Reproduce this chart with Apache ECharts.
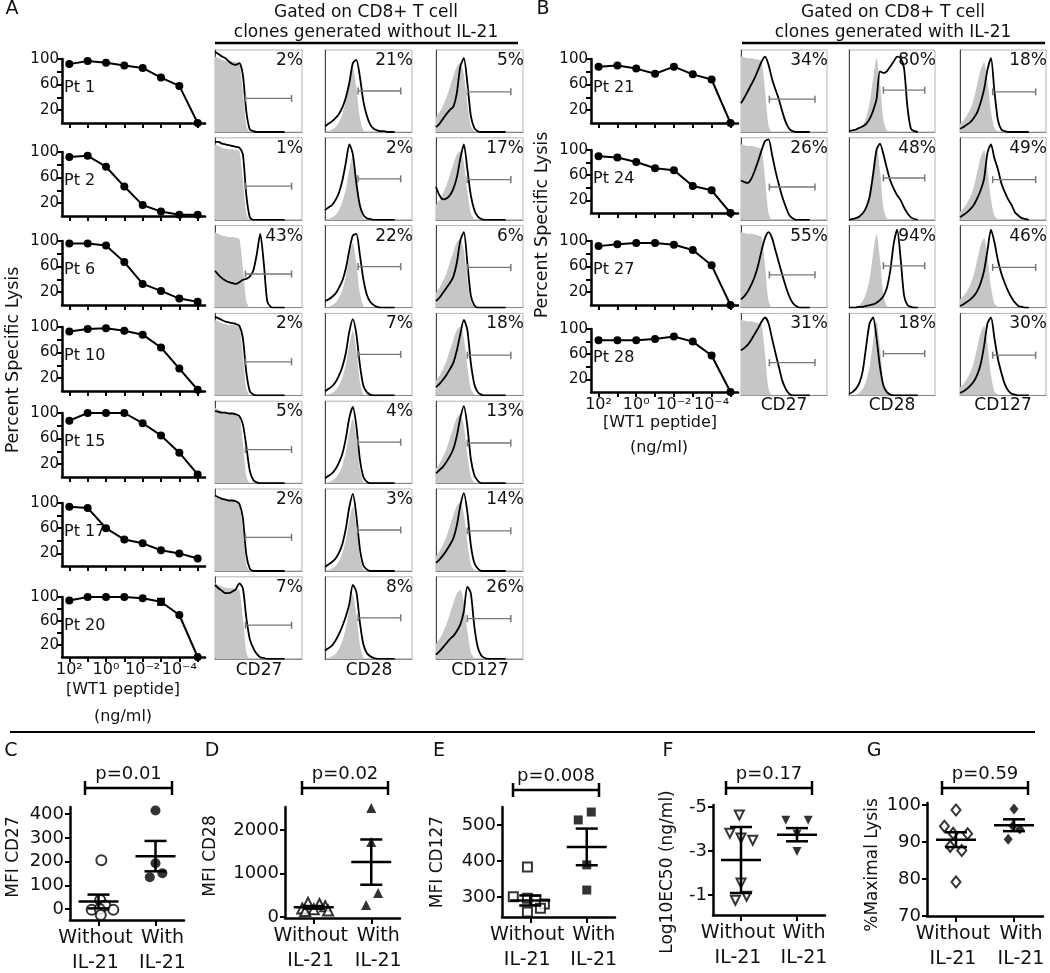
<!DOCTYPE html>
<html><head><meta charset="utf-8">
<script src="https://cdn.jsdelivr.net/npm/echarts@6/dist/echarts.min.js"></script>
<style>html,body{margin:0;padding:0;background:#fff}#c{width:1050px;height:973px}</style>
</head><body><div id="c"></div><script>
// ---------- DATA ----------
const concExp = [2, 1, 0, -1, -2, -3, -4, -5];
const concTickExp = [2, 0, -2, -4];
const concTickLabels = ['10²', '10⁰', '10⁻²', '10⁻⁴'];
const lysisTicks = [20, 60, 100];
const lysisMinorTicks = [20, 40, 60, 80, 100];

const patientsA = ['Pt 1', 'Pt 2', 'Pt 6', 'Pt 10', 'Pt 15', 'Pt 17', 'Pt 20'];
const patientsB = ['Pt 21', 'Pt 24', 'Pt 27', 'Pt 28'];

const lysisPt1  = [92, 97, 94, 90, 86, 71, 58, 0];
const lysisPt2  = [92, 94, 77, 46, 17, 7, 2, 2];
const lysisPt6  = [96, 96, 93, 67, 33, 22, 10, 5];
const lysisPt10 = [93, 97, 98, 94, 88, 68, 35, 2];
const lysisPt15 = [88, 100, 100, 100, 84, 65, 38, 4];
const lysisPt17 = [94, 92, 60, 42, 36, 25, 20, 12];
const lysisPt20 = [94, 100, 100, 100, 98, 92, 70, 0];
const lysisPt20Err = [0, 0, 0, 0, 0, 5, 0, 0];
const lysisPt21 = [88, 90, 85, 77, 88, 76, 68, 0];
const lysisPt24 = [90, 88, 81, 71, 68, 43, 36, 0];
const lysisPt27 = [92, 95, 97, 97, 94, 86, 62, 0];
const lysisPt28 = [82, 82, 82, 84, 88, 80, 58, 0];

const markers = ['CD27', 'CD28', 'CD127'];
const pctA_CD27  = ['2%', '1%', '43%', '2%', '5%', '2%', '7%'];
const pctA_CD28  = ['21%', '2%', '22%', '7%', '4%', '3%', '8%'];
const pctA_CD127 = ['5%', '17%', '6%', '18%', '13%', '14%', '26%'];
const pctB_CD27  = ['34%', '26%', '55%', '31%'];
const pctB_CD28  = ['80%', '48%', '94%', '18%'];
const pctB_CD127 = ['18%', '49%', '46%', '30%'];

// histogram channel bins (% of axis) and gates [from, to, height]
const histBins = [0,4,8,12,16,20,24,28,32,36,40,44,48,52,56,60,64,68,72,76,80];
const gateA = [[35, 88, 41], [38, 87, 50], [36, 86, 49]];
const gateB = [[33, 86, 40], [40, 88, 51], [38, 88, 49]];

const grayA_CD27  = [92,90,88,87,86,86,85,84,50,8,0,0,0,0,0,0,0,0,0,0,0];
const grayA_CD28  = [0,1,3,6,12,22,38,62,79,55,18,2,0,0,0,0,0,0,0,0,0];
const grayA_CD127 = [18,24,32,42,55,68,80,84,70,35,8,1,0,0,0,0,0,0,0,0,0];
const grayB_CD27  = [92,91,90,90,89,88,86,50,8,0,0,0,0,0,0,0,0,0,0,0,0];
const grayB_CD28  = [0,0,1,3,8,18,35,65,90,60,15,2,0,0,0,0,0,0,0,0,0];
const grayB_CD127 = [10,14,20,28,40,58,76,85,62,25,5,1,0,0,0,0,0,0,0,0,0];

const histA_CD27 = [
  [98,95,92,90,86,83,82,84,70,25,3,1,0,0,0,0,0,0,0,0,0],
  [95,95,93,92,91,90,89,88,80,30,3,0,0,0,0,0,0,0,0,0,0],
  [45,40,36,33,31,30,29,31,34,35,38,45,65,90,55,8,1,0,0,0,0],
  [96,94,92,90,89,88,87,85,70,28,5,1,0,0,0,0,0,0,0,0,0],
  [88,87,86,86,85,85,84,82,72,45,15,4,1,0,0,0,0,0,0,0,0],
  [92,90,88,87,86,86,85,82,65,20,3,0,0,0,0,0,0,0,0,0,0],
  [90,86,83,80,80,82,85,92,86,50,24,13,6,2,1,0,0,0,0,0,0]];
const histA_CD28 = [
  [7,10,13,17,22,30,42,60,84,88,68,38,20,9,4,2,1,1,0,0,0],
  [12,15,18,24,33,48,70,92,80,45,18,6,2,1,0,0,0,0,0,0,0],
  [8,10,13,17,24,33,48,70,88,90,65,35,16,7,3,1,0,0,0,0,0],
  [5,8,11,16,24,35,52,78,93,75,38,12,4,1,0,0,0,0,0,0,0],
  [6,9,12,17,25,36,55,80,93,70,30,8,2,0,0,0,0,0,0,0,0],
  [5,8,11,15,22,33,52,78,94,68,28,7,2,0,0,0,0,0,0,0,0],
  [10,13,16,22,30,40,52,67,90,82,45,18,7,3,1,0,0,0,0,0,0]];
const histA_CD127 = [
  [6,10,16,22,27,31,48,80,90,60,20,5,1,0,0,0,0,0,0,0,0],
  [40,30,25,26,30,38,52,75,92,62,30,12,4,1,0,0,0,0,0,0,0],
  [8,12,18,24,30,38,55,82,92,55,15,3,0,0,0,0,0,0,0,0,0],
  [10,14,19,25,32,40,55,75,92,80,40,14,4,1,0,0,0,0,0,0,0],
  [12,16,20,26,33,42,58,80,94,70,30,10,3,0,0,0,0,0,0,0,0],
  [10,14,19,25,32,40,56,80,95,72,32,10,3,0,0,0,0,0,0,0,0],
  [5,9,14,19,24,28,34,42,58,88,80,40,14,4,1,0,0,0,0,0,0]];
const histB_CD27 = [
  [35,42,50,58,66,76,86,92,82,65,52,40,25,12,4,1,0,0,0,0,0],
  [48,46,45,50,60,72,85,96,98,80,60,43,28,16,6,2,0,0,0,0,0],
  [10,14,20,28,38,52,70,85,92,85,70,55,40,26,14,6,2,0,0,0,0],
  [55,58,62,68,75,82,90,95,88,70,52,35,18,8,2,0,0,0,0,0,0]];
const histB_CD28 = [
  [1,2,3,5,7,10,16,26,40,74,72,74,80,86,92,90,78,30,4,1,0],
  [0,1,2,4,8,15,28,55,85,93,80,63,48,38,30,24,15,8,3,1,0],
  [0,0,0,1,1,2,3,4,6,9,14,24,45,78,95,60,15,3,1,0,0],
  [2,4,8,15,30,60,88,95,70,35,12,4,1,0,0,0,0,0,0,0,0]];
const histB_CD127 = [
  [4,6,9,12,17,24,36,52,76,90,50,15,3,1,0,0,0,0,0,0,0],
  [3,6,9,13,18,26,36,50,82,92,75,62,45,34,25,18,9,5,2,1,0],
  [2,4,7,10,14,20,30,45,70,95,80,58,42,30,20,12,6,2,1,0,0],
  [3,5,8,12,17,25,38,60,88,95,70,45,28,14,6,2,1,0,0,0,0]];

// bottom panels
const groupNames = ['Without', 'With'];
const groupSub = 'IL-21';
const cWithout = [206, 38, 15, -3, 0, -3, -25];
const cWith = [415, 193, 134, 151];
const cJitWithout = [0.05, 0.03, 0.12, -0.12, 0.02, 0.26, 0.04];
const cJitWith = [0, 0, -0.1, 0.12];
const cMean = [32, 223], cErr = [29, 64];
const cTicks = [0, 100, 200, 300, 400];

const dWithout = [330, 300, 250, 200, 180, 150, 140];
const dWith = [2505, 1724, 552, 276];
const dJitWithout = [-0.1, 0.1, 0.2, -0.2, 0, 0.25, -0.15];
const dJitWith = [0, 0, 0.12, -0.09];
const dMean = [225, 1264], dErr = [30, 520];
const dTicks = [0, 1000, 2000];

const eWithout = [383, 300, 296, 290, 280, 268, 258];
const eWith = [536, 514, 389, 319];
const eJitWithout = [-0.05, -0.3, -0.05, 0.1, 0.25, 0.18, -0.05];
const eJitWith = [0.08, -0.15, 0, 0];
const eMean = [290, 439], eErr = [14, 51];
const eTicks = [300, 400, 500];

const fWithout = [-4.64, -3.82, -3.6, -3.5, -1.55, -0.77, -0.95];
const fWith = [-4.41, -4.41, -3.77, -2.99];
const fJitWithout = [-0.03, -0.2, 0, 0.21, 0, -0.1, 0.1];
const fJitWith = [-0.2, 0.2, 0, 0];
const fMean = [-2.6, -3.75], fErr = [1.5, 0.3];
const fTicks = [-5, -3, -1];

const gWithout = [98.6, 94.2, 92.3, 92.2, 88.8, 87.7, 79.2];
const gWith = [98.9, 94.3, 93.5, 90.7];
const gJitWithout = [0, -0.2, -0.05, 0.2, -0.1, 0.1, 0];
const gJitWith = [0, -0.02, 0.1, -0.1];
const gMean = [90.6, 94.5], gErr = [2.0, 1.6];
const gTicks = [70, 80, 90, 100];

const pValues = ['p=0.01', 'p=0.02', 'p=0.008', 'p=0.17', 'p=0.59'];

// ---------- BUILD ----------
const FONT = 'DejaVu Sans';
const TXT = '#111';
const grids = [], xAxes = [], yAxes = [], series = [], graphic = [];
function addGrid(g, xa, ya) {
  const i = grids.length;
  grids.push(Object.assign({containLabel: false}, g));
  xAxes.push(Object.assign({gridIndex: i}, xa));
  yAxes.push(Object.assign({gridIndex: i}, ya));
  return i;
}
function text(x, y, str, size, align, rot) {
  graphic.push({type: 'text', x: x, y: y, rotation: rot || 0, z: 50,
    style: {text: str, font: size + 'px "' + FONT + '"', fill: TXT,
      textAlign: align || 'center', align: align || 'center',
      textVerticalAlign: 'middle', verticalAlign: 'middle'}});
}
function line(x1, y1, x2, y2, w, c) {
  graphic.push({type: 'line', z: 50, shape: {x1, y1, x2, y2}, style: {stroke: c || '#000', lineWidth: w || 2}});
}

// kill curves
function curve(left, width, top, h, vals, errs, showX, label) {
  const gi = addGrid({left, top, width, height: h}, {
    type: 'value', inverse: true, min: -5.4, max: 2.4,
    axisLine: {onZero: false, lineStyle: {color: '#000', width: 2.5}},
    axisTick: {customValues: concExp, length: 5, lineStyle: {color: '#000', width: 2}},
    axisLabel: {show: showX, customValues: concTickExp, showMinLabel: true, showMaxLabel: true, hideOverlap: false,
      formatter: v => concTickLabels[concTickExp.indexOf(Math.round(v))],
      fontFamily: FONT, fontSize: 16, color: TXT, margin: 5},
    splitLine: {show: false}
  }, {
    type: 'value', min: 0, max: 100,
    axisLine: {show: true, onZero: false, lineStyle: {color: '#000', width: 2.5}},
    axisTick: {show: true, customValues: lysisMinorTicks, length: 5, lineStyle: {color: '#000', width: 2}},
    axisLabel: {customValues: lysisTicks, showMinLabel: true, showMaxLabel: true, hideOverlap: false,
      fontFamily: FONT, fontSize: 15, color: TXT, margin: 3},
    splitLine: {show: false}
  });
  series.push({type: 'line', xAxisIndex: gi, yAxisIndex: gi,
    data: concExp.map((x, i) => [x, vals[i]]),
    symbol: 'circle', symbolSize: 8, itemStyle: {color: '#000'},
    lineStyle: {color: '#000', width: 2}, clip: false, z: 3, animation: false});
  if (errs) {
    series.push({type: 'custom', xAxisIndex: gi, yAxisIndex: gi, z: 4, clip: false,
      data: concExp.map((x, i) => [x, vals[i], errs[i]]).filter(d => d[2] > 0),
      renderItem: (p, api) => {
        const x = api.value(0), m = api.value(1), e = api.value(2);
        const a = api.coord([x, m + e]), b = api.coord([x, m - e]);
        const st = {stroke: '#000', lineWidth: 2};
        return {type: 'group', children: [
          {type: 'line', shape: {x1: a[0], y1: a[1], x2: b[0], y2: b[1]}, style: st},
          {type: 'line', shape: {x1: a[0] - 4, y1: a[1], x2: a[0] + 4, y2: a[1]}, style: st},
          {type: 'line', shape: {x1: b[0] - 4, y1: b[1], x2: b[0] + 4, y2: b[1]}, style: st}]};
      }});
  }
  text(left + 2, top + 29, label, 16, 'left');
}

const rowTopsA = [59, 152, 241, 327, 413, 503, 597];
const rowHA = [64, 64, 64, 64, 64, 63, 60];
const rowTopsB = [59, 150, 241, 329];
const rowHB = [64, 63, 64, 63];
const lysisA = [lysisPt1, lysisPt2, lysisPt6, lysisPt10, lysisPt15, lysisPt17, lysisPt20];
const lysisB = [lysisPt21, lysisPt24, lysisPt27, lysisPt28];
lysisA.forEach((v, i) => curve(62, 143, rowTopsA[i], rowHA[i], v, i === 6 ? lysisPt20Err : null, i === 6, patientsA[i]));
lysisB.forEach((v, i) => curve(591, 147, rowTopsB[i], rowHB[i], v, null, i === 3, patientsB[i]));

// histograms
function hist(left, top, w, h, gray, black, gate, pct) {
  const gi = addGrid({left, top, width: w, height: h, show: true, borderColor: '#b4b4b4', borderWidth: 1},
    {type: 'value', min: 0, max: 100, axisLine: {onZero: false, lineStyle: {color: '#888', width: 1}},
      axisTick: {show: false}, axisLabel: {show: false}, splitLine: {show: false}},
    {type: 'value', min: 0, max: 100, axisLine: {show: true, onZero: false, lineStyle: {color: '#444', width: 1}},
      axisTick: {show: false}, axisLabel: {show: false}, splitLine: {show: false}});
  series.push({type: 'line', xAxisIndex: gi, yAxisIndex: gi, data: histBins.map((x, i) => [x, gray[i]]),
    smooth: 0.25, symbol: 'none', lineStyle: {width: 0}, areaStyle: {color: '#c6c6c6', opacity: 1}, z: 1, animation: false});
  series.push({type: 'line', xAxisIndex: gi, yAxisIndex: gi, data: histBins.map((x, i) => [x, black[i]]),
    smooth: 0.25, symbol: 'none', lineStyle: {color: '#000', width: 1.8}, z: 2, animation: false});
  series.push({type: 'line', xAxisIndex: gi, yAxisIndex: gi, data: [[gate[0], gate[2]], [gate[1], gate[2]]],
    symbol: 'rect', symbolSize: [1.5, 7], itemStyle: {color: '#777'}, lineStyle: {color: '#777', width: 1.3}, z: 3, animation: false});
  graphic.push({type: 'text', x: left + w + 1, y: top + 2, z: 50,
    style: {text: pct, font: '17px "' + FONT + '"', fill: TXT, textAlign: 'right', align: 'right',
      textVerticalAlign: 'top', verticalAlign: 'top'}});
}
const histTop = i => 50 + i * 87.8;
const colsA = [215, 325, 436], colsB = [741, 849, 960];
const grayA = [grayA_CD27, grayA_CD28, grayA_CD127], grayB = [grayB_CD27, grayB_CD28, grayB_CD127];
const histA = [histA_CD27, histA_CD28, histA_CD127], histB = [histB_CD27, histB_CD28, histB_CD127];
const pctA = [pctA_CD27, pctA_CD28, pctA_CD127], pctB = [pctB_CD27, pctB_CD28, pctB_CD127];
for (let c = 0; c < 3; c++) {
  for (let r = 0; r < 7; r++) hist(colsA[c], histTop(r), 87, 82, grayA[c], histA[c][r], gateA[c], pctA[c][r]);
  for (let r = 0; r < 4; r++) hist(colsB[c], histTop(r), 86, 82, grayB[c], histB[c][r], gateB[c], pctB[c][r]);
  text(colsA[c] + 44, 671, markers[c], 17);
  text(colsB[c] + 43, 406, markers[c], 17);
}

// bottom dot plots
function dots(cfg) {
  const gi = addGrid({left: cfg.left, top: cfg.top, width: cfg.w, height: cfg.h}, {
    type: 'value', min: 0.5, max: 2.5,
    axisLine: {onZero: false, lineStyle: {color: '#000', width: 2.5}},
    axisTick: {customValues: [1, 2], length: 6, lineStyle: {color: '#000', width: 2}},
    axisLabel: {show: false},
    splitLine: {show: false}
  }, {
    type: 'value', min: cfg.yMin, max: cfg.yMax, inverse: !!cfg.inverse,
    axisLine: {show: true, onZero: false, lineStyle: {color: '#000', width: 2.5}},
    axisTick: {show: true, customValues: cfg.ticks, length: 5, lineStyle: {color: '#000', width: 2}},
    axisLabel: {customValues: cfg.ticks, showMinLabel: true, showMaxLabel: true, hideOverlap: false,
      formatter: v => String(v), fontFamily: FONT, fontSize: 18, color: TXT, margin: 6},
    splitLine: {show: false}
  });
  const open = {color: '#fff', borderColor: '#000', borderWidth: 2};
  series.push({type: 'scatter', xAxisIndex: gi, yAxisIndex: gi, z: 3, animation: false,
    data: cfg.wo.map((v, i) => [1 + cfg.jwo[i], v]), symbol: cfg.sym, symbolSize: cfg.size,
    symbolRotate: cfg.rot || 0, itemStyle: open});
  series.push({type: 'scatter', xAxisIndex: gi, yAxisIndex: gi, z: 3, animation: false,
    data: cfg.wi.map((v, i) => [2 + cfg.jwi[i], v]), symbol: cfg.sym, symbolSize: cfg.size,
    symbolRotate: cfg.rot || 0, itemStyle: {color: '#000'}});
  series.push({type: 'custom', xAxisIndex: gi, yAxisIndex: gi, z: 4, animation: false,
    data: cfg.mean.map((m, i) => [i + 1, m, cfg.err[i]]),
    renderItem: (p, api) => {
      const x = api.value(0), m = api.value(1), e = api.value(2);
      const c = api.coord([x, m]), a = api.coord([x, m + e]), b = api.coord([x, m - e]);
      const st = {stroke: '#000', lineWidth: 2.5};
      return {type: 'group', children: [
        {type: 'line', shape: {x1: c[0] - 20, y1: c[1], x2: c[0] + 20, y2: c[1]}, style: st},
        {type: 'line', shape: {x1: a[0], y1: a[1], x2: b[0], y2: b[1]}, style: st},
        {type: 'line', shape: {x1: a[0] - 11, y1: a[1], x2: a[0] + 11, y2: a[1]}, style: st},
        {type: 'line', shape: {x1: b[0] - 11, y1: b[1], x2: b[0] + 11, y2: b[1]}, style: st}]};
    }});
  // group labels under the two ticks
  const axisY = cfg.top + cfg.h;
  const t1 = cfg.left + cfg.w * 0.25, t2 = cfg.left + cfg.w * 0.75;
  text(t1 - 3, axisY + 18, groupNames[0], 19);
  text(t1 - 3, axisY + 43, groupSub, 19);
  text(t2 + 7, axisY + 18, groupNames[1], 19);
  text(t2 + 7, axisY + 43, groupSub, 19);
  // bracket + p-value
  const [bx1, bx2, by] = cfg.bracket;
  line(bx1, by, bx2, by, 2.5);
  line(bx1, by - 7, bx1, by + 7, 2.5);
  line(bx2, by - 7, bx2, by + 7, 2.5);
  text((bx1 + bx2) / 2, by - 14, cfg.p, 18);
  text(cfg.ylab[0], cfg.ylab[1], cfg.ylab[2], 17, 'center', Math.PI / 2);
  text(cfg.letter[0], cfg.letter[1], cfg.letter[2], 19);
}
dots({left: 70, top: 807, w: 114, h: 113, yMin: -46, yMax: 430, ticks: cTicks,
  wo: cWithout, wi: cWith, jwo: cJitWithout, jwi: cJitWith, mean: cMean, err: cErr,
  sym: 'circle', size: 10, bracket: [85, 172, 788], p: pValues[0],
  ylab: [14, 857, 'MFI CD27'], letter: [11, 751, 'C']});
dots({left: 285, top: 807, w: 115, h: 111, yMin: -20, yMax: 2530, ticks: dTicks,
  wo: dWithout, wi: dWith, jwo: dJitWithout, jwi: dJitWith, mean: dMean, err: dErr,
  sym: 'triangle', size: 10, bracket: [302, 388, 788], p: pValues[1],
  ylab: [211, 856, 'MFI CD28'], letter: [212, 751, 'D']});
dots({left: 502, top: 807, w: 113, h: 110, yMin: 244, yMax: 550, ticks: eTicks,
  wo: eWithout, wi: eWith, jwo: eJitWithout, jwi: eJitWith, mean: eMean, err: eErr,
  sym: 'rect', size: 9, bracket: [513, 599, 790], p: pValues[2],
  ylab: [438, 862, 'MFI CD127'], letter: [439, 751, 'E']});
dots({left: 713, top: 805, w: 112, h: 110, yMin: -5.1, yMax: -0.1, inverse: true, ticks: fTicks,
  wo: fWithout, wi: fWith, jwo: fJitWithout, jwi: fJitWith, mean: fMean, err: fErr,
  sym: 'triangle', rot: 180, size: 9, bracket: [726, 812, 788], p: pValues[3],
  ylab: [668, 872, 'Log10EC50 (ng/ml)'], letter: [668, 751, 'F']});
dots({left: 927, top: 803, w: 116, h: 113, yMin: 70, yMax: 100.5, ticks: gTicks,
  wo: gWithout, wi: gWith, jwo: gJitWithout, jwi: gJitWith, mean: gMean, err: gErr,
  sym: 'diamond', size: [9, 11], bracket: [942, 1028, 788], p: pValues[4],
  ylab: [873, 865, '%Maximal Lysis'], letter: [874, 751, 'G']});

// titles, labels, dividers
text(12, 9, 'A', 19);
text(543, 9, 'B', 19);
text(366, 13, 'Gated on CD8+ T cell', 17);
text(366, 33, 'clones generated without IL-21', 17);
line(215, 43, 518, 43, 2.5);
text(893, 13, 'Gated on CD8+ T cell', 17);
text(893, 33, 'clones generated with IL-21', 17);
line(742, 43, 1045, 43, 2.5);
text(13, 360, 'Percent Specific Lysis', 17.5, 'center', Math.PI / 2);
text(542, 225, 'Percent Specific Lysis', 17.5, 'center', Math.PI / 2);
text(123, 690, '[WT1 peptide]', 16);
text(123, 717, '(ng/ml)', 16);
text(660, 423, '[WT1 peptide]', 16);
text(659, 448, '(ng/ml)', 16);
line(10, 732, 1035, 732, 2);

const chart = echarts.init(document.getElementById('c'));
chart.setOption({
  animation: false,
  backgroundColor: '#fff',
  grid: grids, xAxis: xAxes, yAxis: yAxes, series: series,
  graphic: {elements: graphic}
});
</script></body></html>
